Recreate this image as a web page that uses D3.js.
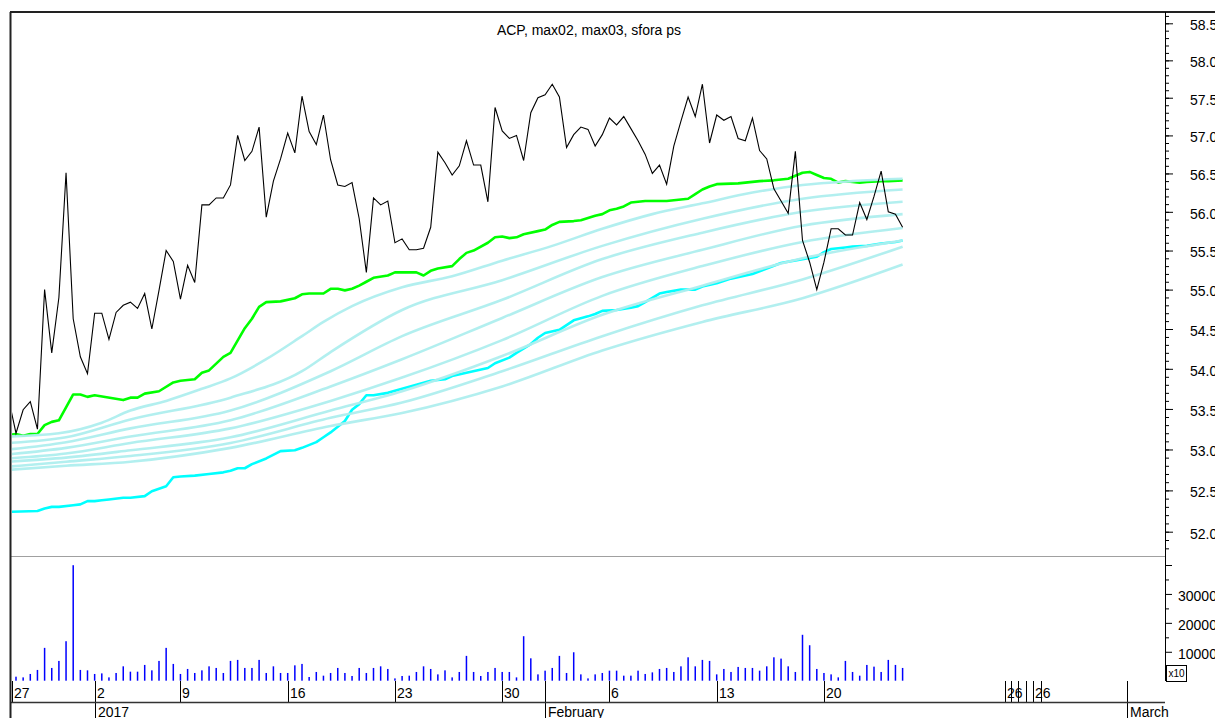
<!DOCTYPE html>
<html>
<head>
<meta charset="utf-8">
<script src="https://cdn.jsdelivr.net/npm/d3@7"></script>
<style>
  body { margin: 0; background: #fff; }
  svg { display: block; font-family: "Liberation Sans", Arial, sans-serif; }
</style>
</head>
<body>
<svg id="chart" width="1215" height="718"></svg>
<script>
const title = "ACP, max02, max03, sfora ps";

// closing price per bar, first value is bar -1 (cut by the left edge)
const closeStart = -1;
const close = [53.61, 53.20, 53.49, 53.59, 53.25, 55.00, 54.20, 54.90, 56.51, 54.63,
    54.15, 53.94, 54.70, 54.70, 54.37, 54.71, 54.80, 54.84, 54.76, 54.95,
    54.50, 54.99, 55.50, 55.36, 54.88, 55.31, 55.09, 56.09, 56.09, 56.18,
    56.18, 56.35, 57.00, 56.67, 56.79, 57.11, 55.93, 56.40, 56.69, 57.03,
    56.77, 57.52, 57.05, 56.88, 57.27, 56.68, 56.35, 56.33, 56.38, 55.91,
    55.22, 56.18, 56.09, 56.14, 55.60, 55.65, 55.51, 55.51, 55.53, 55.80,
    56.78, 56.64, 56.48, 56.60, 56.93, 56.61, 56.61, 56.13, 57.37, 57.06,
    56.96, 57.00, 56.67, 57.30, 57.50, 57.54, 57.68, 57.51, 56.84, 57.01,
    57.11, 57.08, 56.86, 57.01, 57.23, 57.14, 57.25, 57.09, 56.93, 56.75,
    56.50, 56.61, 56.36, 56.86, 57.19, 57.51, 57.25, 57.68, 56.90, 57.27,
    57.20, 57.25, 56.96, 56.93, 57.23, 56.80, 56.69, 56.30, 56.14, 55.98,
    56.79, 55.63, 55.35, 55.00, 55.35, 55.78, 55.78, 55.70, 55.70, 56.12,
    55.90, 56.20, 56.53, 56.00, 55.97, 55.80];

// [bar, value] readings
const max02 = [[-1, 53.18], [0, 53.19], [1, 53.17], [2, 53.19], [3, 53.19], [4, 53.30], [5, 53.34],
    [6, 53.36], [8, 53.68], [9, 53.68], [10, 53.65], [11, 53.67], [15, 53.61], [16, 53.64],
    [17, 53.64], [18, 53.69], [20, 53.72], [22, 53.83], [23, 53.85], [25, 53.87], [26, 53.95],
    [27, 53.98], [29, 54.15], [30, 54.20], [32, 54.51], [33, 54.63], [34, 54.78], [35, 54.84],
    [37, 54.85], [39, 54.89], [40, 54.94], [41, 54.95], [43, 54.95], [44, 55.01], [45, 55.01],
    [46, 54.99], [47, 55.01], [48, 55.05], [49, 55.10], [50, 55.15], [52, 55.18], [53, 55.22],
    [56, 55.22], [57, 55.18], [58, 55.24], [59, 55.27], [61, 55.30], [62, 55.39], [63, 55.47],
    [64, 55.50], [66, 55.60], [67, 55.67], [68, 55.68], [69, 55.66], [70, 55.67], [71, 55.71],
    [73, 55.75], [74, 55.77], [75, 55.83], [76, 55.87], [78, 55.88], [79, 55.89], [80, 55.92],
    [81, 55.95], [82, 55.97], [83, 56.02], [84, 56.04], [85, 56.07], [86, 56.12], [88, 56.14],
    [91, 56.14], [93, 56.16], [94, 56.17], [95, 56.23], [96, 56.29], [97, 56.33], [98, 56.36],
    [101, 56.37], [104, 56.40], [106, 56.41], [108, 56.43], [109, 56.47], [110, 56.51],
    [111, 56.52], [112, 56.48], [113, 56.44], [114, 56.43], [115, 56.38], [116, 56.40],
    [117, 56.39], [118, 56.38], [119, 56.39], [121, 56.40], [122, 56.40], [124, 56.41]];

const max03 = [[-1, 52.24], [3, 52.25], [4, 52.28], [5, 52.30], [6, 52.30], [8, 52.32], [9, 52.33],
    [10, 52.37], [11, 52.37], [12, 52.38], [13, 52.39], [15, 52.41], [16, 52.41], [18, 52.43],
    [19, 52.49], [21, 52.55], [22, 52.66], [23, 52.67], [25, 52.68], [27, 52.70], [29, 52.72],
    [30, 52.74], [31, 52.77], [32, 52.77], [33, 52.82], [35, 52.89], [37, 52.98], [39, 52.99],
    [40, 53.02], [42, 53.09], [43, 53.15], [44, 53.21], [46, 53.35], [47, 53.49], [48, 53.56],
    [49, 53.67], [50, 53.67], [52, 53.70], [54, 53.75], [56, 53.80], [58, 53.85], [60, 53.87],
    [61, 53.91], [63, 53.95], [66, 54.01], [67, 54.07], [69, 54.14], [70, 54.20], [72, 54.31],
    [73, 54.39], [74, 54.45], [76, 54.49], [77, 54.55], [78, 54.61], [80, 54.66], [81, 54.69],
    [82, 54.73], [84, 54.74], [86, 54.77], [87, 54.79], [88, 54.84], [90, 54.95], [91, 54.97],
    [93, 55.00], [95, 55.00], [96, 55.04], [98, 55.08], [100, 55.14], [103, 55.20], [105, 55.27],
    [107, 55.34], [110, 55.39], [112, 55.42], [113, 55.48], [114, 55.52], [116, 55.54],
    [117, 55.55], [119, 55.56], [121, 55.59], [123, 55.61], [124, 55.63]];

// the pale "sfora ps" lines, top to bottom at the right end
const sfora1 = [[-1, 53.16], [6, 53.20], [12, 53.33], [16, 53.48], [21, 53.60], [26, 53.75], [30, 53.88],
    [35, 54.12], [40, 54.41], [43, 54.59], [47, 54.79], [54, 55.03], [61, 55.17], [68, 55.37],
    [75, 55.56], [82, 55.78], [89, 55.97], [96, 56.11], [103, 56.25], [110, 56.35], [117, 56.40], [124, 56.43]];
const sfora2 = [[-1, 53.08], [7, 53.15], [16, 53.37], [30, 53.64], [40, 53.97], [44, 54.21], [54, 54.74],
    [68, 55.12], [82, 55.56], [96, 55.91], [110, 56.17], [124, 56.29]];
const sfora3 = [[-1, 53.00], [7, 53.09], [16, 53.26], [30, 53.48], [44, 53.97], [54, 54.41], [68, 54.87],
    [82, 55.39], [96, 55.73], [110, 56.00], [124, 56.13]];
const sfora4 = [[-1, 52.94], [7, 53.02], [16, 53.16], [30, 53.36], [44, 53.78], [54, 54.12], [68, 54.64],
    [82, 55.16], [96, 55.51], [110, 55.82], [124, 55.97]];
const sfora5 = [[-1, 52.89], [7, 52.95], [16, 53.08], [30, 53.26], [44, 53.60], [54, 53.89], [68, 54.36],
    [82, 54.92], [96, 55.30], [110, 55.61], [124, 55.79]];
const sfora6 = [[-1, 52.85], [7, 52.90], [16, 52.99], [30, 53.15], [44, 53.48], [54, 53.72], [68, 54.16],
    [82, 54.68], [96, 55.05], [110, 55.40], [124, 55.63]];
const sfora7 = [[-1, 52.79], [7, 52.85], [16, 52.92], [30, 53.08], [44, 53.39], [54, 53.58], [68, 53.97],
    [82, 54.41], [96, 54.80], [110, 55.13], [124, 55.55]];
const sfora8 = [[-1, 52.75], [7, 52.80], [16, 52.85], [30, 53.02], [44, 53.29], [54, 53.45], [68, 53.78],
    [82, 54.23], [96, 54.59], [110, 54.89], [124, 55.32]];

const volume = [1390, 1150, 2330, 3720, 11350, 4410, 6840, 13650, 39930, 3720,
    3580, 2330, 2530, 1150, 2670, 4970, 3120, 3120, 5450, 3580,
    6840, 11350, 5800, 2330, 4060, 2670, 3580, 4970, 4410, 2670,
    6840, 7190, 4410, 4410, 7190, 2670, 4970, 2670, 2670, 5310,
    5800, 1280, 3020, 1740, 2670, 4410, 2670, 1630, 4410, 2670,
    4410, 4970, 4060, 800, 1630, 1740, 3020, 4970, 4060, 2190,
    3580, 1150, 3020, 8580, 3020, 1630, 3020, 4410, 3020, 3020,
    1150, 15380, 7740, 2190, 3470, 4410, 8580, 2670, 9830, 2190,
    800, 2190, 2670, 3470, 3470, 1740, 1740, 3470, 2330, 2880,
    4060, 4410, 3020, 4970, 8090, 4970, 7190, 6840, 2190, 4060,
    3020, 4760, 4410, 4410, 3470, 4970, 8090, 7640, 4970, 3020,
    15870, 12260, 4060, 2670, 2190, 1150, 6840, 3020, 1740, 5450,
    4860, 3020, 7190, 5450, 4410];

const priceMajor = d3.range(52, 58.51, 0.5);
const priceMinor = d3.range(51.8, 58.61, 0.1);
const volumeMajor = [10000, 20000, 30000, 40000];
const volumeMinor = [5000, 15000, 25000, 35000];

// date axis, positions in bar units
const dayTickBars = [-0.5, 11, 23, 38, 53, 68, 83, 98, 113, 138.3, 139.2, 140.1, 141.3, 142.3, 143.3];
const dayTickLabels = ["27", "2", "9", "16", "23", "30", "6", "13", "20", "26", "", "", "", "26", ""];
const monthTickBars = [11, 74, 155.4];
const monthTickLabels = ["2017", "February", "March"];

const svg = d3.select("#chart");

const frameLeft = 11, frameTop = 12, frameRight = 1165;
const priceBottom = 557, volBase = 681, dayRow = 702, frameBottom = 718;

const x = d3.scaleLinear().domain([0, 124]).range([16, 902.6]);
const y = d3.scaleLog().domain([52, 58.5]).range([531.7, 23.3]);
const yVol = d3.scaleLinear().domain([0, 40000]).range([680.7, 565]);

svg.append("rect").attr("width", 1215).attr("height", frameBottom).attr("fill", "#fff");

svg.append("clipPath").attr("id", "price-clip")
    .append("rect")
    .attr("x", frameLeft + 1).attr("y", frameTop + 1)
    .attr("width", frameRight - frameLeft - 1).attr("height", priceBottom - frameTop - 1);

svg.append("text")
    .attr("x", 589).attr("y", 35)
    .attr("text-anchor", "middle")
    .style("font-size", "14px")
    .text(title);

// volume bars
svg.append("g").selectAll("rect")
    .data(volume)
    .enter().append("rect")
    .attr("x", function(d, i) { return x(i) - 0.75; })
    .attr("y", function(d) { return yVol(d); })
    .attr("width", 1.5)
    .attr("height", function(d) { return yVol(0) - yVol(d); })
    .attr("fill", "#0000ff");

svg.append("line")
    .attr("x1", frameLeft).attr("x2", frameRight)
    .attr("y1", priceBottom - 0.5).attr("y2", priceBottom - 0.5)
    .attr("stroke", "#a0a0a0");

// price panel
const plot = svg.append("g").attr("clip-path", "url(#price-clip)");

const pairLine = d3.line()
    .x(function(d) { return x(d[0]); })
    .y(function(d) { return y(d[1]); });

const smoothLine = d3.line()
    .x(function(d) { return x(d[0]); })
    .y(function(d) { return y(d[1]); })
    .curve(d3.curveMonotoneX);

plot.append("path").datum(max02)
    .attr("d", pairLine)
    .attr("fill", "none").attr("stroke", "#00ff00").attr("stroke-width", 2.6)
    .attr("stroke-linejoin", "round");

plot.append("path").datum(max03)
    .attr("d", pairLine)
    .attr("fill", "none").attr("stroke", "#00ffff").attr("stroke-width", 2.6)
    .attr("stroke-linejoin", "round");

plot.selectAll(".sfora")
    .data([sfora1, sfora2, sfora3, sfora4, sfora5, sfora6, sfora7, sfora8])
    .enter().append("path")
    .attr("class", "sfora")
    .attr("d", smoothLine)
    .attr("fill", "none").attr("stroke", "#aeeeee").attr("stroke-width", 2.6)
    .attr("stroke-opacity", 0.95);

plot.append("path").datum(close)
    .attr("d", d3.line()
        .x(function(d, i) { return x(i + closeStart); })
        .y(function(d) { return y(d); }))
    .attr("fill", "none").attr("stroke", "#000").attr("stroke-width", 1.1);

// right axes
const priceAxis = d3.axisRight(y)
    .tickValues(priceMajor)
    .tickSize(8)
    .tickPadding(17)
    .tickFormat(d3.format(".1f"));

const priceMinorAxis = d3.axisRight(y)
    .tickValues(priceMinor.filter(function(d) { return y(d) > frameTop + 2 && y(d) < priceBottom - 2; }))
    .tickSize(4)
    .tickFormat("");

function styleAxis(g) {
    g.select(".domain").remove();
    g.selectAll("line").attr("stroke", "#000");
    g.selectAll("text").style("font-size", "14px").attr("fill", "#000")
        .attr("font-family", "Liberation Sans, Arial, sans-serif");
}

svg.append("g").attr("transform", "translate(" + frameRight + ",0)").call(priceMinorAxis).call(styleAxis);
svg.append("g").attr("transform", "translate(" + frameRight + ",0)").call(priceAxis).call(styleAxis)
    .selectAll("text").attr("dy", "0.45em");

svg.append("g").attr("transform", "translate(" + frameRight + ",0)")
    .call(d3.axisRight(yVol).tickValues(volumeMinor).tickSize(4).tickFormat(""))
    .call(styleAxis);
svg.append("g").attr("transform", "translate(" + frameRight + ",0)")
    .call(d3.axisRight(yVol).tickValues(volumeMajor).tickSize(7).tickPadding(6)
        .tickFormat(function(d) { return d < 40000 ? d : ""; }))
    .call(styleAxis)
    .selectAll("text").attr("dy", "0.45em");

// x10 multiplier box
svg.append("rect")
    .attr("x", frameRight + 1.5).attr("y", 665.5)
    .attr("width", 20).attr("height", 16)
    .attr("fill", "#fff").attr("stroke", "#000");
svg.append("text")
    .attr("x", frameRight + 11.5).attr("y", 677)
    .attr("text-anchor", "middle")
    .style("font-size", "10px")
    .text("x10");

// date axis
const dates = svg.append("g");

dates.selectAll(".day-tick")
    .data(dayTickBars)
    .enter().append("line")
    .attr("class", "day-tick")
    .attr("x1", function(d) { return Math.round(x(d)) + 0.5; })
    .attr("x2", function(d) { return Math.round(x(d)) + 0.5; })
    .attr("y1", volBase).attr("y2", dayRow)
    .attr("stroke", "#000");

dates.selectAll(".day-label")
    .data(dayTickBars)
    .enter().append("text")
    .attr("class", "day-label")
    .attr("x", function(d) { return Math.round(x(d)) + 2; })
    .attr("y", 698)
    .style("font-size", "14px")
    .text(function(d, i) { return dayTickLabels[i]; });

dates.selectAll(".month-tick")
    .data(monthTickBars)
    .enter().append("line")
    .attr("class", "month-tick")
    .attr("x1", function(d) { return Math.round(x(d)) + 0.5; })
    .attr("x2", function(d) { return Math.round(x(d)) + 0.5; })
    .attr("y1", volBase).attr("y2", frameBottom)
    .attr("stroke", "#000");

dates.selectAll(".month-label")
    .data(monthTickBars)
    .enter().append("text")
    .attr("class", "month-label")
    .attr("x", function(d) { return Math.round(x(d)) + 3; })
    .attr("y", 717)
    .style("font-size", "14px")
    .text(function(d, i) { return monthTickLabels[i]; });

dates.append("line")
    .attr("x1", frameLeft).attr("x2", frameRight)
    .attr("y1", dayRow + 0.5).attr("y2", dayRow + 0.5)
    .attr("stroke", "#333").attr("stroke-width", 1.5);

// frame
svg.append("line")
    .attr("x1", frameLeft - 1).attr("x2", 1215)
    .attr("y1", frameTop).attr("y2", frameTop)
    .attr("stroke", "#222").attr("stroke-width", 2);
svg.append("line")
    .attr("x1", frameLeft - 0.5).attr("x2", frameLeft - 0.5)
    .attr("y1", frameTop).attr("y2", frameBottom)
    .attr("stroke", "#222").attr("stroke-width", 2);
svg.append("line")
    .attr("x1", frameRight + 0.5).attr("x2", frameRight + 0.5)
    .attr("y1", frameTop).attr("y2", volBase)
    .attr("stroke", "#000");
</script>
</body>
</html>
